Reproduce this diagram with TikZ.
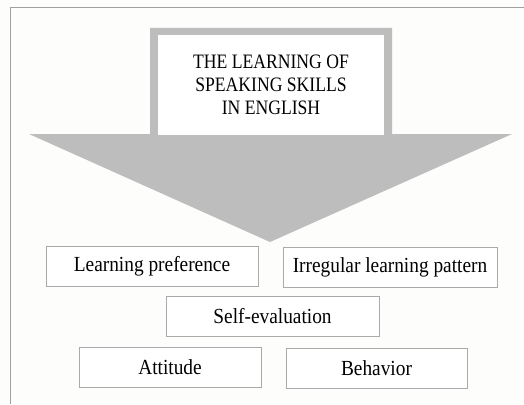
\documentclass[tikz,border=0pt]{standalone}
\usepackage{fontspec}
\setmainfont{Liberation Serif}
\newfontfamily\narrowserif[FakeStretch=0.9]{Liberation Serif}
\newfontfamily\titleserif[FakeStretch=0.86]{Liberation Serif}
\definecolor{framegray}{RGB}{160, 160, 160}
\definecolor{arrowgray}{RGB}{189, 189, 189}
\definecolor{boxgray}{RGB}{170, 170, 170}
\definecolor{paper}{RGB}{253, 253, 252}
\usetikzlibrary{positioning}
\tikzset{
  factor/.style={draw=boxgray, fill=white, line width=0.8pt, inner sep=0pt,
    minimum height=40pt, font=\narrowserif\fontsize{21.5}{22}\selectfont},
  topic/.style={fill=white, inner sep=0pt, minimum width=226pt, minimum height=100pt,
    align=center, font=\titleserif\fontsize{20.5}{23}\selectfont}
}

\begin{document}
\begin{tikzpicture}[x=1pt, y=-1pt]
  \fill[paper] (0,0) rectangle (524,404);
  \useasboundingbox (0,0) rectangle (524,404);

  % Frame
  \draw[framegray, line width=1pt] (10,404) -- (10,8) -- (524,8);

  % Arrow
  \fill[arrowgray] (150,28) -- (392,28) -- (392,134) -- (512,134) -- (270,242)
    -- (29,134) -- (150,134) -- cycle;

  % Title
  \node[topic] (title) at (271,85) {THE LEARNING OF\\SPEAKING SKILLS\\IN ENGLISH};

  % Factors
  \node[factor, minimum width=212pt] (pref) at (152,266) {Learning preference};
  \node[factor, minimum width=214pt] (irreg) at (390,267) {Irregular learning pattern};
  \node[factor, minimum width=213pt] (selfev) at (272.5,316) {Self-evaluation};
  \node[factor, minimum width=182pt] (attit) at (170,367.5) {Attitude};
  \node[factor, minimum width=181pt] (behav) at (376.5,368) {Behavior};
\end{tikzpicture}
\end{document}
